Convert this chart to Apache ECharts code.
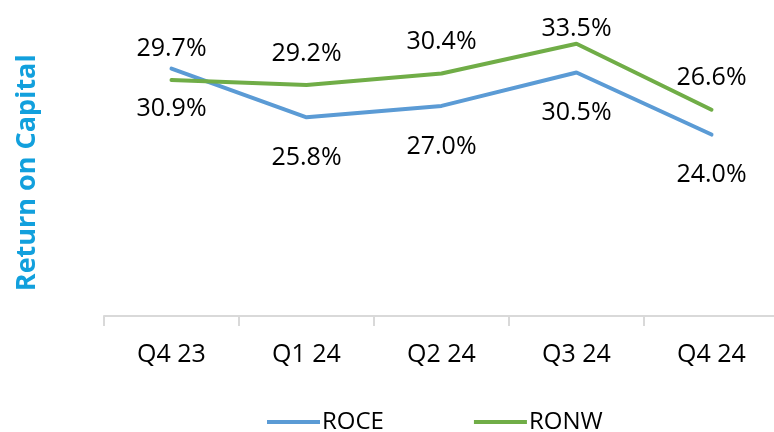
<!DOCTYPE html>
<html>
<head>
<meta charset="utf-8">
<script src="https://cdn.jsdelivr.net/npm/echarts@6/dist/echarts.min.js"></script>
<style>
  html, body { margin: 0; padding: 0; background: #fff; }
  #chart { width: 774px; height: 432px; }
</style>
</head>
<body>
<div id="chart"></div>
<script>
// Quarterly return ratios, in percent
const quarters = ['Q4 23', 'Q1 24', 'Q2 24', 'Q3 24', 'Q4 24'];
const roce = [30.9, 25.8, 27.0, 30.5, 24.0];
const ronw = [29.7, 29.2, 30.4, 33.5, 26.6];

const FONT = '"Open Sans", "Noto Sans", sans-serif';

// RONW labels sit above the line; the peak label is tucked closer to the point
const ronwData = ronw.map((v, i) => (
  i === 3 ? { value: v, label: { distance: 2 } } : v
));

const pct = p => Number(p.value).toFixed(1) + '%';

const chart = echarts.init(document.getElementById('chart'));
chart.setOption({
  animation: false,
  textStyle: { fontFamily: FONT },
  grid: { left: 104, top: 29.5, width: 675, height: 286.5, outerBoundsMode: 'none', containLabel: false },
  legend: {
    left: 262,
    top: 405,
    icon: 'rect',
    itemWidth: 53,
    itemHeight: 4,
    itemGap: 90,
    textStyle: { fontSize: 24, color: '#000', fontFamily: FONT, padding: [0, 0, 0, -3] },
    data: ['ROCE', 'RONW']
  },
  xAxis: {
    type: 'category',
    data: quarters,
    boundaryGap: true,
    axisLine: { lineStyle: { color: '#d9d9d9', width: 2 } },
    axisTick: { show: true, length: 10, interval: 0, lineStyle: { color: '#d9d9d9', width: 2 } },
    axisLabel: { fontSize: 25, color: '#000', margin: 26, fontFamily: FONT }
  },
  yAxis: {
    type: 'value',
    min: 5,
    max: 35,
    name: 'Return on Capital',
    nameLocation: 'middle',
    nameRotate: 90,
    nameGap: 63,
    nameTextStyle: { fontSize: 27, fontWeight: 'bold', color: '#12a0dd', fontFamily: FONT },
    axisLine: { show: false },
    axisTick: { show: false },
    axisLabel: { show: false },
    splitLine: { show: false }
  },
  series: [
    {
      name: 'ROCE',
      type: 'line',
      data: roce,
      symbol: 'circle',
      symbolSize: 0,
      showSymbol: true,
      lineStyle: { color: '#5b9bd5', width: 4, cap: 'round' },
      itemStyle: { color: '#5b9bd5' },
      label: {
        show: true,
        position: 'bottom',
        distance: 28,
        fontSize: 25,
        color: '#000',
        fontFamily: FONT,
        formatter: pct
      }
    },
    {
      name: 'RONW',
      type: 'line',
      data: ronwData,
      symbol: 'circle',
      symbolSize: 0,
      showSymbol: true,
      lineStyle: { color: '#70ad47', width: 4, cap: 'round' },
      itemStyle: { color: '#70ad47' },
      label: {
        show: true,
        position: 'top',
        distance: 19,
        fontSize: 25,
        color: '#000',
        fontFamily: FONT,
        formatter: pct
      }
    }
  ]
});
</script>
</body>
</html>
